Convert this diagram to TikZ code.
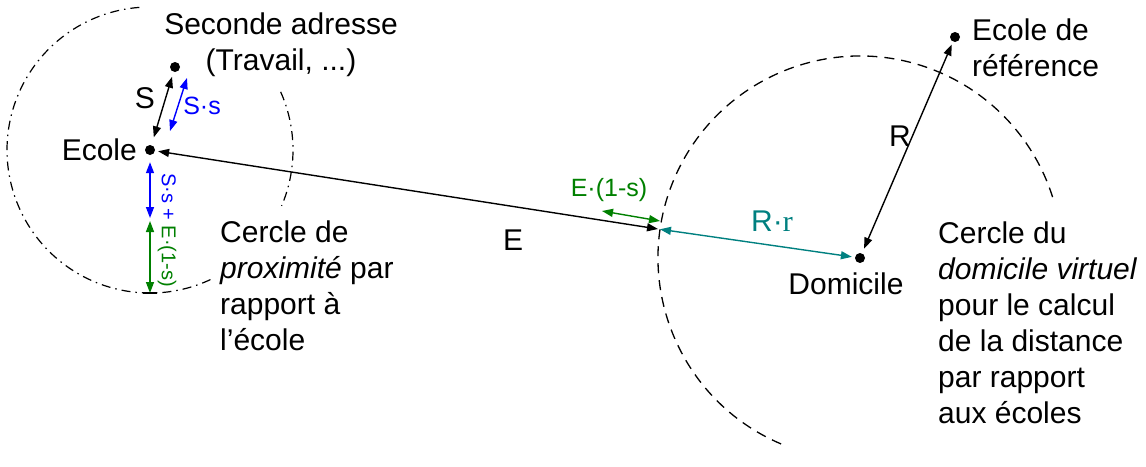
\documentclass[tikz,border=0pt]{standalone}
\usepackage{fontspec}
\setmainfont{Liberation Sans}
\newfontfamily\serif{Liberation Serif}
\usepackage{tikz}
\usetikzlibrary{arrows.meta}
\tikzset{
  pt/.style={circle,fill=black,inner sep=0pt,minimum size=10pt},
  dbl/.style={line width=1.4pt,{Triangle[length=11pt,width=8pt]}-{Triangle[length=11pt,width=8pt]}},
  prox/.style={line width=1.2pt,dash pattern=on 9pt off 5pt on 1.5pt off 5pt},
  virt/.style={line width=1.3pt,dash pattern=on 10pt off 7pt},
  lbl/.style={inner sep=0pt,align=left,font=\fontsize{30}{36}\selectfont},
  sml/.style={inner sep=0pt,font=\fontsize{25}{29}\selectfont}
}
\begin{document}
\begin{tikzpicture}[x=1pt,y=-1pt]
\useasboundingbox (0,0) rectangle (1146,466);
\node[pt] (ecole) at (150,150) {};
\node[pt] (seconde) at (175,67) {};
\node[pt] (domicile) at (860,258) {};
\node[pt] (ref) at (955,37) {};
\coordinate (bord) at (658,229);
\coordinate (ss1) at (170,131); \coordinate (ss2) at (187,78);
\coordinate (es1) at (602,211); \coordinate (es2) at (660,221);
\coordinate (v1) at (150,218); \coordinate (v2) at (150,221); \coordinate (bas) at (150,293);
\draw[prox] (ecole) ++(65:143) arc[start angle=65,end angle=267,radius=143];
\draw[prox] (ecole) ++(-24:143) arc[start angle=-24,end angle=23,radius=143];
\draw[virt] (domicile) ++(113:202) arc[start angle=113,end angle=344,radius=202];
\draw[dbl,shorten <=8pt,shorten >=5pt] (ecole) -- (seconde); \node[lbl] (s) at (145,98) {S};
\draw[dbl,blue] (ss1) -- (ss2); \node[sml,blue] (sxs) at (202,106) {S·s};
\draw[dbl,shorten >=3pt] (bord) -- (ecole); \node[lbl] (e) at (513,240) {E};
\draw[dbl,green!50!black] (es1) -- (es2); \node[sml,green!50!black] (exs) at (609,190) {E·(1-s)};
\draw[dbl,teal,shorten <=2pt,shorten >=3pt] (bord) -- (domicile); \node[lbl,teal] (rxr) at (772,221) {R·{\serif r}};
\draw[dbl,shorten <=5pt,shorten >=3pt] (domicile) -- (ref); \node[lbl] (r) at (900,136) {R};
\draw[dbl,blue,shorten <=7pt] (ecole) -- (v1);
\draw[dbl,green!50!black] (v2) -- (bas);
\draw[line width=1.4pt] (bas) +(-7,0) -- +(7,0);
\node[inner sep=0pt,rotate=-90,font=\fontsize{20}{24}\selectfont] (somme) at (167,230) {\textcolor{blue}{S·s +} \textcolor{green!50!black}{E·(1-s)}};
\node[lbl,align=center] (secl) at (281,45) {Seconde adresse\\(Travail, ...)};
\node[lbl,anchor=east] (ecl) at (137,150) {Ecole};
\node[lbl,anchor=north west] (refl) at (972,18.5) {Ecole de\\référence};
\node[lbl] (doml) at (846,284) {Domicile};
\node[lbl,anchor=north west] (proxl) at (220,220.5) {Cercle de\\\textit{proximité} par\\rapport à\\l’école};
\node[lbl,anchor=north west] (virtl) at (938,221.5) {Cercle du\\\textit{domicile virtuel}\\pour le calcul\\de la distance\\par rapport\\aux écoles};
\end{tikzpicture}
\end{document}
